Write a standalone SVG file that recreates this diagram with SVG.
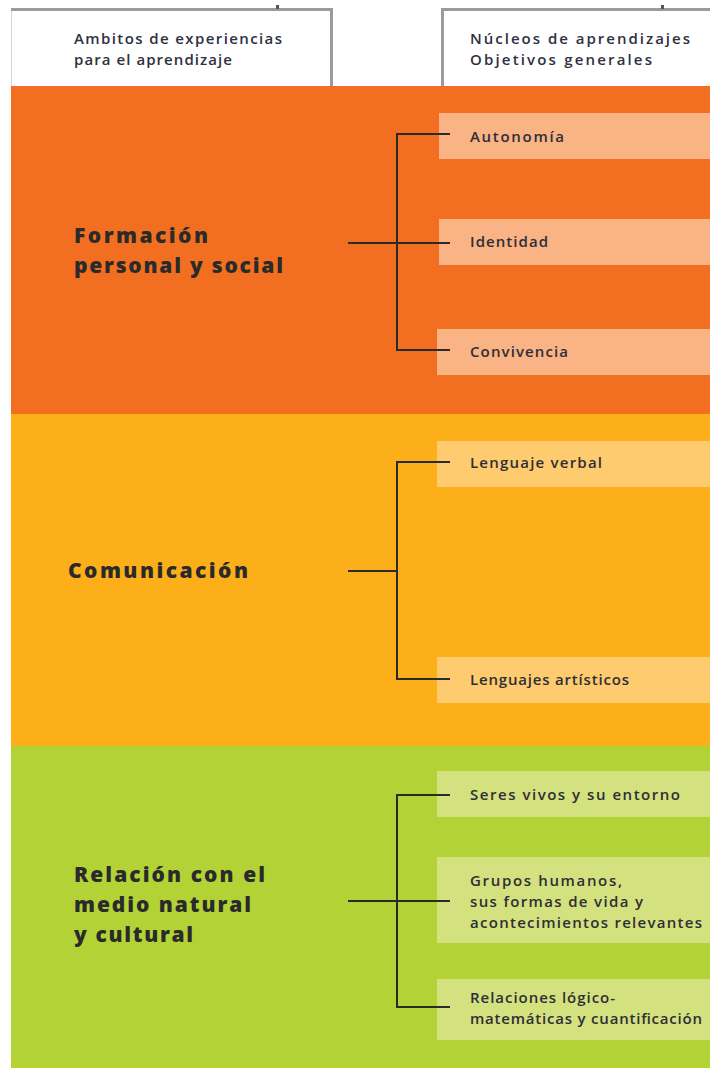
<svg xmlns="http://www.w3.org/2000/svg" width="710" height="1068" viewBox="0 0 710 1068">
<style>
.hdr{font-family:"Open Sans","Liberation Sans",sans-serif;font-size:15px;font-weight:600;fill:#2f3040}
.lbl{font-family:"Open Sans","Liberation Sans",sans-serif;font-size:21px;font-weight:800;fill:#2a2a2a}
.item{font-family:"Open Sans","Liberation Sans",sans-serif;font-size:15px;font-weight:600;fill:#2e2e36}
.frame{fill:none;stroke:#9b9b9b;stroke-width:3}
.conn{fill:none;stroke:#2a2a2a;stroke-width:2}
</style>
<rect x="0" y="0" width="710" height="1068" fill="#ffffff"/>
<g id="header-left">
<line x1="11.5" y1="9" x2="11.5" y2="86" stroke="#d6d6d6" stroke-width="1"/>
<path class="frame" d="M11 9.5 H331.5 V86"/>
<rect x="276" y="5" width="3" height="4" fill="#555"/>
<text class="hdr" x="74" y="44" textLength="208" lengthAdjust="spacing">Ambitos de experiencias</text>
<text class="hdr" x="74" y="65" textLength="158" lengthAdjust="spacing">para el aprendizaje</text>
</g>
<g id="header-right">
<path class="frame" d="M442.5 86 V9.5 H710"/>
<rect x="661" y="5" width="3" height="4" fill="#555"/>
<text class="hdr" x="470" y="44" textLength="220" lengthAdjust="spacing">Núcleos de aprendizajes</text>
<text class="hdr" x="470" y="65" textLength="182" lengthAdjust="spacing">Objetivos generales</text>
</g>
<g id="band-formacion">
<rect x="11" y="86" width="699" height="328" fill="#f26f21"/>
<text class="lbl" x="74" y="243" textLength="134" lengthAdjust="spacing">Formación</text>
<text class="lbl" x="74" y="273" textLength="209" lengthAdjust="spacing">personal y social</text>
</g>
<g id="band-comunicacion">
<rect x="11" y="414" width="699" height="332" fill="#fcaf19"/>
<text class="lbl" x="68" y="578" textLength="180" lengthAdjust="spacing">Comunicación</text>
</g>
<g id="band-relacion">
<rect x="11" y="746" width="699" height="322" fill="#b2d235"/>
<text class="lbl" x="74" y="882" textLength="191" lengthAdjust="spacing">Relación con el</text>
<text class="lbl" x="74" y="912" textLength="177" lengthAdjust="spacing">medio natural</text>
<text class="lbl" x="74" y="942" textLength="119" lengthAdjust="spacing">y cultural</text>
</g>
<g id="node-autonomia">
<rect x="439" y="113" width="271" height="46" fill="#f9b384"/>
<text class="item" x="470" y="142" textLength="94" lengthAdjust="spacing">Autonomía</text>
</g>
<g id="node-identidad">
<rect x="439" y="219" width="271" height="46" fill="#f9b384"/>
<text class="item" x="470" y="247" textLength="78" lengthAdjust="spacing">Identidad</text>
</g>
<g id="node-convivencia">
<rect x="437" y="329" width="273" height="46" fill="#f9b384"/>
<text class="item" x="470" y="357" textLength="98" lengthAdjust="spacing">Convivencia</text>
</g>
<g id="node-lenguaje-verbal">
<rect x="437" y="441" width="273" height="46" fill="#fecb6e"/>
<text class="item" x="470" y="468" textLength="132" lengthAdjust="spacing">Lenguaje verbal</text>
</g>
<g id="node-lenguajes-artisticos">
<rect x="437" y="657" width="273" height="46" fill="#fecb6e"/>
<text class="item" x="470" y="685" textLength="159" lengthAdjust="spacing">Lenguajes artísticos</text>
</g>
<g id="node-seres-vivos">
<rect x="437" y="771" width="273" height="46" fill="#d3e17f"/>
<text class="item" x="470" y="800" textLength="210" lengthAdjust="spacing">Seres vivos y su entorno</text>
</g>
<g id="node-grupos-humanos">
<rect x="437" y="857" width="273" height="86" fill="#d3e17f"/>
<text class="item" x="470" y="886" textLength="152" lengthAdjust="spacing">Grupos humanos,</text>
<text class="item" x="470" y="907" textLength="173" lengthAdjust="spacing">sus formas de vida y</text>
<text class="item" x="470" y="928" textLength="232" lengthAdjust="spacing">acontecimientos relevantes</text>
</g>
<g id="node-relaciones">
<rect x="437" y="979" width="273" height="61" fill="#d3e17f"/>
<text class="item" x="470" y="1003" textLength="145" lengthAdjust="spacing">Relaciones lógico-</text>
<text class="item" x="470" y="1024" textLength="232" lengthAdjust="spacing">matemáticas y cuantificación</text>
</g>
<g id="connectors">
<path class="conn" d="M450 134 H397 V350 H450"/>
<path class="conn" d="M348 243 H450"/>
<path class="conn" d="M450 462 H397 V679 H450"/>
<path class="conn" d="M348 571 H397"/>
<path class="conn" d="M450 795 H397 V1007 H450"/>
<path class="conn" d="M348 901 H450"/>
</g>
</svg>
